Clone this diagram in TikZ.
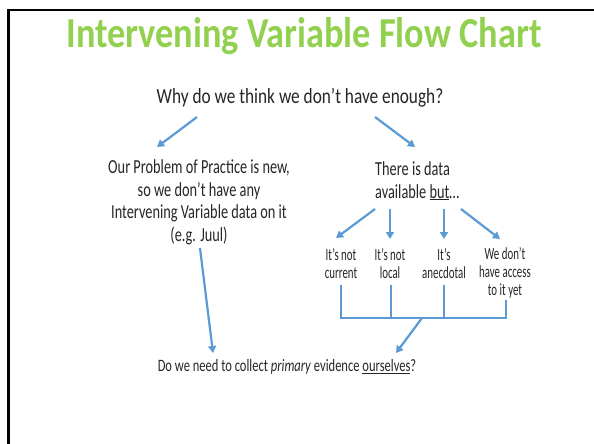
\documentclass[tikz,border=0pt]{standalone}
\usepackage{fontspec}
\setmainfont{Carlito}
\newfontfamily\bodyfont[FakeStretch=0.8]{Carlito}
\newfontfamily\midfont[FakeStretch=0.72]{Carlito}
\newfontfamily\smallfont[FakeStretch=0.64]{Carlito}
\newfontfamily\titlefont[FakeStretch=0.85]{Carlito}
\usetikzlibrary{arrows.meta}
\definecolor{titlegreen}{RGB}{146,208,80}
\definecolor{arrowblue}{RGB}{91,155,213}
\begin{document}
\begin{tikzpicture}[x=1pt,y=-1pt,
  arr/.style={draw=arrowblue,line width=2.2pt,-{Triangle[length=7pt,width=8pt]}},
  bar/.style={draw=arrowblue,line width=2.2pt},
  big/.style={inner sep=0pt,align=center,font=\bodyfont\fontsize{21.6}{26}\selectfont,text=black!85},
  mid/.style={inner sep=0pt,align=center,font=\midfont\fontsize{19.9}{22.5}\selectfont,text=black!85},
  small/.style={inner sep=0pt,align=center,font=\smallfont\fontsize{17}{18}\selectfont,text=black!85}]
\useasboundingbox (0,0) rectangle (594,444);
\fill[white] (0,0) rectangle (594,444);
\draw[line width=2.6pt,black] (8.5,444) -- (8.5,10) -- (594,10);
\node[inner sep=0pt,font=\titlefont\fontsize{42.7}{48}\bfseries\selectfont,text=titlegreen] (title) at (304,36) {Intervening Variable Flow Chart};
\node[big] (q) at (300,98) {Why do we think we don’t have enough?};
\node[mid] (left) at (199,202.5) {Our Problem of Practice is new,\\so we don’t have any\\Intervening Variable data on it\\(e.g. Juul)};
\node[mid,align=left,anchor=west] (right) at (375,181) {There is data\\available \underline{but}…};
\node[small] (c1) at (341,264) {It’s not\\current};
\node[small] (c2) at (390,264) {It’s not\\local};
\node[small] (c3) at (444,264) {It’s\\anecdotal};
\node[small] (c4) at (505,273) {We don’t\\have access\\to it yet};
\node[inner sep=0pt,font=\midfont\fontsize{17.4}{20}\selectfont,text=black!85] (bottom) at (287,367) {Do we need to collect \emph{primary} evidence \underline{ourselves}?};
% arrow endpoints
\coordinate (qL) at (197,117); \coordinate (leftT) at (157,147);
\coordinate (qR) at (375,117); \coordinate (rightT) at (415,147);
\coordinate (r1) at (375,209); \coordinate (c1t) at (336,238);
\coordinate (r2) at (390,209); \coordinate (c2t) at (390,239);
\coordinate (r3) at (444,209); \coordinate (c3t) at (444,239);
\coordinate (r4) at (461,209); \coordinate (c4t) at (500,239);
\coordinate (leftB) at (200,248); \coordinate (bottomL) at (213,353);
\coordinate (b1) at (341,285); \coordinate (b2) at (391,285);
\coordinate (b3) at (444,285); \coordinate (b4) at (506,300);
\coordinate (bj) at (422,318); \coordinate (bottomR) at (396,353);
\draw[arr] (qL) -- (leftT);
\draw[arr] (qR) -- (rightT);
\draw[arr] (r1) -- (c1t);
\draw[arr] (r2) -- (c2t);
\draw[arr] (r3) -- (c3t);
\draw[arr] (r4) -- (c4t);
\draw[arr] (leftB) -- (bottomL);
\draw[bar,line join=miter] (b1) |- (bj) -| (b4);
\draw[bar] (b2) -- (b2 |- bj);
\draw[bar] (b3) -- (b3 |- bj);
\draw[arr] (bj) -- (bottomR);
\end{tikzpicture}
\end{document}
